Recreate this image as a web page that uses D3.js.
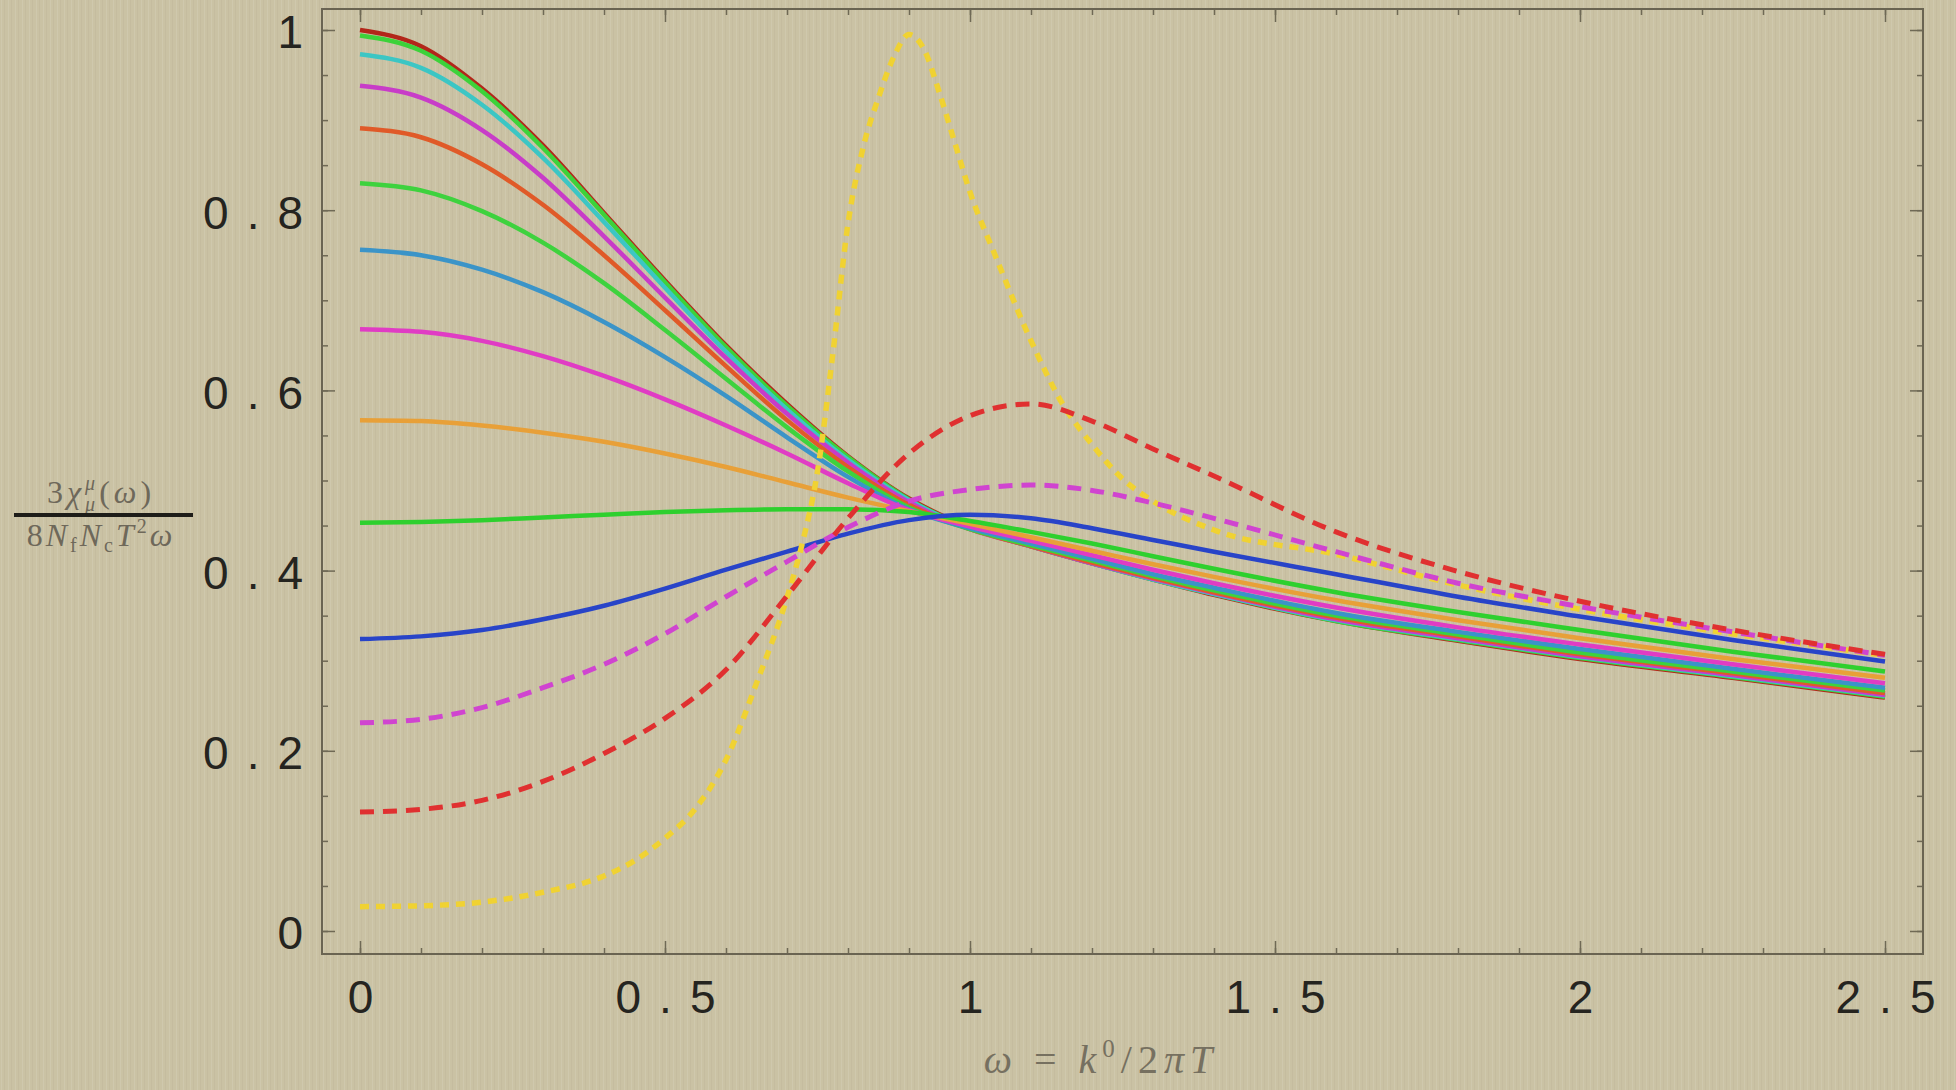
<!DOCTYPE html>
<html>
<head>
<meta charset="utf-8">
<script src="https://cdnjs.cloudflare.com/ajax/libs/d3/7.8.5/d3.min.js"></script>
<style>
  html, body { margin: 0; padding: 0; background: #cac2a4; }
  svg { display: block; }
</style>
</head>
<body>
<div id="chart"></div>
<script>
var omega = [0, 0.1, 0.2, 0.3, 0.4, 0.5, 0.6, 0.7, 0.8, 0.9, 1.0, 1.1, 1.2, 1.3, 1.4, 1.6, 1.8, 2.0, 2.25, 2.5];

var solidDarkRed   = [1.000, .982, .935, .872, .797, .722, .650, .585, .527, .480, .448, .427, .408, .390, .373, .344, .322, .302, .281, .259];
var solidGreenA    = [.994, .977, .932, .869, .795, .720, .648, .583, .526, .479, .447, .427, .408, .390, .374, .344, .323, .303, .282, .260];
var solidCyan      = [.973, .958, .917, .858, .787, .714, .643, .579, .523, .478, .447, .427, .408, .390, .374, .345, .324, .304, .283, .261];
var solidMagentaA  = [.938, .925, .889, .836, .771, .703, .636, .574, .520, .476, .446, .427, .408, .391, .375, .346, .325, .305, .284, .262];
var solidOrangeRed = [.891, .881, .851, .806, .750, .689, .627, .567, .515, .473, .446, .427, .409, .392, .376, .348, .327, .307, .286, .264];
var solidGreenB    = [.830, .822, .799, .764, .719, .667, .613, .559, .510, .470, .446, .428, .411, .394, .378, .350, .329, .309, .288, .267];
var solidSteelBlue = [.756, .750, .734, .709, .676, .637, .594, .548, .504, .468, .447, .430, .413, .396, .381, .353, .332, .313, .291, .270];
var solidMagentaB  = [.668, .665, .655, .638, .616, .590, .561, .530, .497, .467, .449, .433, .417, .401, .386, .359, .337, .318, .296, .275];
var solidOrange    = [.567, .566, .561, .553, .543, .530, .515, .498, .481, .466, .452, .437, .422, .407, .393, .367, .345, .325, .302, .281];
var solidGreenC    = [.453, .454, .456, .459, .462, .465, .467, .468, .468, .465, .455, .443, .430, .416, .402, .376, .354, .334, .310, .288];
var solidBlue      = [.324, .327, .334, .346, .361, .380, .401, .421, .441, .456, .462, .458, .447, .434, .421, .396, .371, .349, .323, .299];

var dashedMagenta  = [.231, .235, .248, .270, .296, .330, .371, .410, .448, .477, .490, .495, .489, .475, .458, .421, .386, .360, .332, .306];
var dashedRed      = [.132, .135, .145, .166, .197, .236, .290, .372, .458, .530, .572, .585, .566, .535, .505, .443, .399, .366, .334, .307];

// the narrow yellow peak needs its own, finer sampling
var omegaYellow  = [0, 0.1, 0.2, 0.3, 0.4, 0.45, 0.5, 0.55, 0.6, 0.65, 0.7, 0.725, 0.75, 0.775, 0.8, 0.825, 0.85, 0.875, 0.9, 0.925, 0.95, 0.975, 1.0, 1.04, 1.1, 1.15, 1.2, 1.25, 1.3, 1.4, 1.6, 1.8, 2.0, 2.25, 2.5];
var dottedYellow = [.027, .028, .032, .043, .061, .078, .103, .136, .190, .275, .370, .430, .510, .640, .785, .870, .925, .970, .995, .978, .930, .875, .820, .752, .655, .587, .540, .502, .477, .445, .418, .384, .357, .330, .306];

var xMajor = [0, 0.5, 1, 1.5, 2, 2.5];
var xTickLabels = ["0", "0.5", "1", "1.5", "2", "2.5"];
var yMajor = [0, 0.2, 0.4, 0.6, 0.8, 1];
var yTickLabels = ["0", "0.2", "0.4", "0.6", "0.8", "1"];

var width = 1956, height = 1090;
var frame = {left: 322, right: 1923, top: 9, bottom: 954};

var svg = d3.select("#chart")
    .append("svg")
    .attr("width", width)
    .attr("height", height);

// paper-ish background with faint vertical streaks
var pat = svg.append("defs").append("pattern")
    .attr("id", "paper")
    .attr("patternUnits", "userSpaceOnUse")
    .attr("width", 7)
    .attr("height", 20);
pat.append("rect").attr("width", 7).attr("height", 20).attr("fill", "#cac2a4");
pat.append("rect").attr("x", 1).attr("width", 1).attr("height", 20).attr("fill", "rgba(255,255,255,0.10)");
pat.append("rect").attr("x", 4).attr("width", 1).attr("height", 20).attr("fill", "rgba(90,80,50,0.05)");

svg.append("rect")
    .attr("width", width)
    .attr("height", height)
    .attr("fill", "url(#paper)");

var x = d3.scaleLinear().domain([0, 2.5]).range([360, 1885]);
var y = d3.scaleLinear().domain([0, 1]).range([931, 30]);

var tickColor = "#6f6955";
var xMinor = d3.range(0, 26).map(function(i) { return i / 10; });
var yMinor = d3.range(0, 21).map(function(i) { return i / 20; });

function styleTicks(g) {
  g.select(".domain").remove();
  g.selectAll(".tick line").attr("stroke", tickColor).attr("stroke-width", 1.5);
}

// minor ticks, all four sides
svg.append("g").attr("transform", "translate(0," + frame.bottom + ")")
  .call(d3.axisBottom(x).tickValues(xMinor).tickSize(-6).tickFormat(""))
  .call(styleTicks);
svg.append("g").attr("transform", "translate(0," + frame.top + ")")
  .call(d3.axisTop(x).tickValues(xMinor).tickSize(-6).tickFormat(""))
  .call(styleTicks);
svg.append("g").attr("transform", "translate(" + frame.left + ",0)")
  .call(d3.axisLeft(y).tickValues(yMinor).tickSize(-6).tickFormat(""))
  .call(styleTicks);
svg.append("g").attr("transform", "translate(" + frame.right + ",0)")
  .call(d3.axisRight(y).tickValues(yMinor).tickSize(-6).tickFormat(""))
  .call(styleTicks);

// major ticks
var xAxis = svg.append("g").attr("transform", "translate(0," + frame.bottom + ")")
  .call(d3.axisBottom(x).tickValues(xMajor).tickSize(-13).tickPadding(26)
        .tickFormat(function(d, i) { return xTickLabels[i]; }))
  .call(styleTicks);
svg.append("g").attr("transform", "translate(0," + frame.top + ")")
  .call(d3.axisTop(x).tickValues(xMajor).tickSize(-13).tickFormat(""))
  .call(styleTicks);
var yAxis = svg.append("g").attr("transform", "translate(" + frame.left + ",0)")
  .call(d3.axisLeft(y).tickValues(yMajor).tickSize(-13).tickPadding(1)
        .tickFormat(function(d, i) { return yTickLabels[i]; }))
  .call(styleTicks);
svg.append("g").attr("transform", "translate(" + frame.right + ",0)")
  .call(d3.axisRight(y).tickValues(yMajor).tickSize(-13).tickFormat(""))
  .call(styleTicks);

var labelSpacing = 18;
xAxis.selectAll(".tick text")
  .attr("font-family", "Liberation Sans, Arial, sans-serif")
  .attr("font-size", "46px")
  .attr("letter-spacing", labelSpacing)
  .attr("dx", labelSpacing / 2)
  .attr("fill", "#25241f");
yAxis.selectAll(".tick text")
  .attr("font-family", "Liberation Sans, Arial, sans-serif")
  .attr("font-size", "46px")
  .attr("letter-spacing", labelSpacing)
  .attr("dy", "0.39em")
  .attr("fill", "#25241f");

// frame
svg.append("rect")
  .attr("x", frame.left)
  .attr("y", frame.top)
  .attr("width", frame.right - frame.left)
  .attr("height", frame.bottom - frame.top)
  .attr("fill", "none")
  .attr("stroke", "#6a6452")
  .attr("stroke-width", 2);

// curves
var series = [
  {v: solidDarkRed,   c: "#b3261a"},
  {v: solidGreenA,    c: "#3dd23a"},
  {v: solidCyan,      c: "#3cc6c4"},
  {v: solidMagentaA,  c: "#c83cc8"},
  {v: solidOrangeRed, c: "#e05a28"},
  {v: solidGreenB,    c: "#3ed23e"},
  {v: solidSteelBlue, c: "#3b94c8"},
  {v: solidMagentaB,  c: "#e03cc4"},
  {v: solidOrange,    c: "#e8a038"},
  {v: solidGreenC,    c: "#2ed02e"},
  {v: solidBlue,      c: "#2844c8"}
];

var line = d3.line()
  .x(function(d) { return x(d[0]); })
  .y(function(d) { return y(d[1]); })
  .curve(d3.curveMonotoneX);

var curves = svg.append("g").attr("fill", "none").attr("stroke-linecap", "butt");

series.forEach(function(s) {
  curves.append("path")
    .datum(d3.zip(omega, s.v))
    .attr("d", line)
    .attr("stroke", s.c)
    .attr("stroke-width", 4.5);
});

curves.append("path")
  .datum(d3.zip(omegaYellow, dottedYellow))
  .attr("d", line)
  .attr("stroke", "#f0d232")
  .attr("stroke-width", 5.5)
  .attr("stroke-dasharray", "9,7");

curves.append("path")
  .datum(d3.zip(omega, dashedMagenta))
  .attr("d", line)
  .attr("stroke", "#d044d0")
  .attr("stroke-width", 5)
  .attr("stroke-dasharray", "14,9");

curves.append("path")
  .datum(d3.zip(omega, dashedRed))
  .attr("d", line)
  .attr("stroke", "#e03030")
  .attr("stroke-width", 5)
  .attr("stroke-dasharray", "14,9");

// y axis title, a fraction
var serif = "Liberation Serif, Times New Roman, serif";
var titleColor = "#6e685a";

var num = svg.append("text")
  .attr("x", 101).attr("y", 503)
  .attr("text-anchor", "middle")
  .attr("font-family", serif)
  .attr("font-size", "32px")
  .attr("letter-spacing", 4)
  .attr("fill", titleColor);
num.append("tspan").text("3");
num.append("tspan").attr("font-style", "italic").text("χ");
num.append("tspan").attr("font-style", "italic").attr("font-size", "20px").attr("dy", -13).text("μ");
num.append("tspan").attr("font-style", "italic").attr("font-size", "20px").attr("dx", -14).attr("dy", 21).text("μ");
num.append("tspan").attr("dy", -8).text("(");
num.append("tspan").attr("font-style", "italic").text("ω");
num.append("tspan").text(")");

svg.append("line")
  .attr("x1", 14).attr("x2", 193)
  .attr("y1", 515).attr("y2", 515)
  .attr("stroke", "#1e1d19")
  .attr("stroke-width", 4);

var den = svg.append("text")
  .attr("x", 101).attr("y", 546)
  .attr("text-anchor", "middle")
  .attr("font-family", serif)
  .attr("font-size", "32px")
  .attr("letter-spacing", 3)
  .attr("fill", titleColor);
den.append("tspan").text("8");
den.append("tspan").attr("font-style", "italic").text("N");
den.append("tspan").attr("font-size", "20px").attr("dy", 6).text("f");
den.append("tspan").attr("font-style", "italic").attr("dy", -6).text("N");
den.append("tspan").attr("font-size", "20px").attr("dy", 6).text("c");
den.append("tspan").attr("font-style", "italic").attr("dy", -6).text("T");
den.append("tspan").attr("font-size", "20px").attr("dy", -13).text("2");
den.append("tspan").attr("font-style", "italic").attr("dy", 13).text("ω");

// x axis title
var xt = svg.append("text")
  .attr("x", 1101).attr("y", 1073)
  .attr("text-anchor", "middle")
  .attr("font-family", serif)
  .attr("font-size", "40px")
  .attr("letter-spacing", 6)
  .attr("fill", "#767060");
xt.append("tspan").attr("font-style", "italic").text("ω");
xt.append("tspan").text(" = ");
xt.append("tspan").attr("font-style", "italic").text("k");
xt.append("tspan").attr("font-size", "25px").attr("dy", -16).text("0");
xt.append("tspan").attr("dy", 16).text("/2");
xt.append("tspan").attr("font-style", "italic").text("πT");
</script>
</body>
</html>
